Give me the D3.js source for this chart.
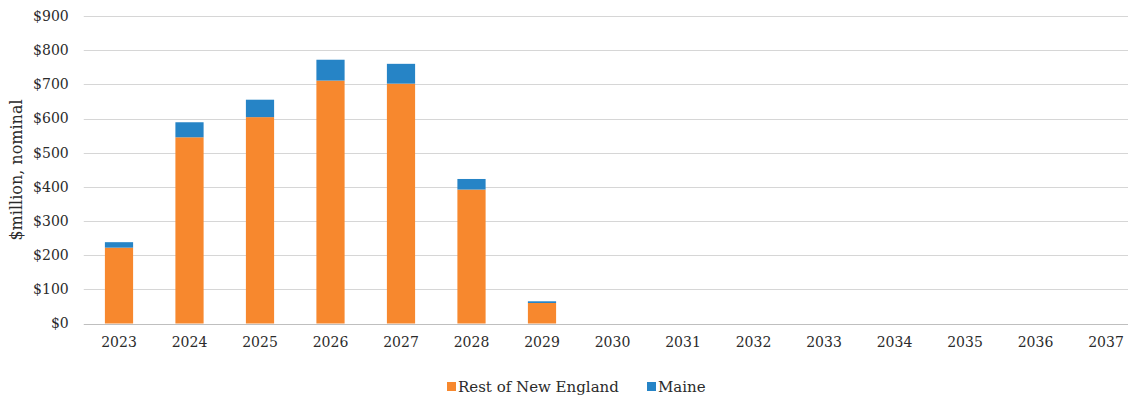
<!DOCTYPE html>
<html>
<head>
<meta charset="utf-8">
<script src="https://cdn.jsdelivr.net/npm/d3@7"></script>
<style>
  html, body { margin: 0; padding: 0; background: #fff; }
  svg { display: block; }
  text { font-family: "DejaVu Serif", "Liberation Serif", serif; fill: #2b2b2b; }
</style>
</head>
<body>
<svg id="chart" width="1128" height="400"></svg>
<script>
// Annual spending, $ million nominal
const years = ["2023","2024","2025","2026","2027","2028","2029","2030","2031","2032","2033","2034","2035","2036","2037"];
const restOfNewEngland = [222, 545, 604, 711, 702, 392, 60, 0, 0, 0, 0, 0, 0, 0, 0];
const maine = [16, 44, 51, 61, 58, 31, 5, 0, 0, 0, 0, 0, 0, 0, 0];
const yTicks = [0, 100, 200, 300, 400, 500, 600, 700, 800, 900];
const seriesNames = ["Rest of New England", "Maine"];
const seriesColors = ["#F7882E", "#2684C6"];

const svg = d3.select("#chart");
const W = 1128, H = 400;
const margin = { left: 83.75, top: 16, bottom: 76 };
const step = 70.5;
const plotRight = margin.left + step * years.length;
const baseY = H - margin.bottom;

const x = d3.scaleBand()
  .domain(years)
  .range([margin.left, plotRight])
  .paddingInner(0.6)
  .paddingOuter(0.3);

const y = d3.scaleLinear()
  .domain([0, 900])
  .range([baseY - 0.5, margin.top]);

// gridlines
svg.append("g")
  .selectAll("line")
  .data(yTicks.filter(d => d > 0))
  .join("line")
  .attr("x1", margin.left)
  .attr("x2", W)
  .attr("y1", d => Math.round(y(d)) + 0.5)
  .attr("y2", d => Math.round(y(d)) + 0.5)
  .attr("stroke", "#d6d6d6")
  .attr("stroke-width", 1);

// y-axis labels
const yAxis = d3.axisLeft(y)
  .tickValues(yTicks)
  .tickFormat(d => "$" + d)
  .tickSize(0)
  .tickPadding(15);
const gy = svg.append("g")
  .attr("transform", `translate(${margin.left},0)`)
  .call(yAxis);
gy.select(".domain").remove();
gy.selectAll("text")
  .style("font-size", "14px")
  .attr("fill", "#2b2b2b");

// stacked data
const rows = years.map((yr, i) => ({ year: yr, rest: restOfNewEngland[i], maine: maine[i] }));
const stacked = d3.stack().keys(["rest", "maine"])(rows);

svg.append("g")
  .selectAll("g")
  .data(stacked)
  .join("g")
  .attr("fill", (d, i) => seriesColors[i])
  .selectAll("rect")
  .data(d => d.filter(p => p[1] - p[0] > 0))
  .join("rect")
  .attr("x", d => x(d.data.year))
  .attr("width", x.bandwidth())
  .attr("y", d => y(d[1]))
  .attr("height", d => y(d[0]) - y(d[1]));

// x baseline
svg.append("line")
  .attr("x1", margin.left).attr("x2", W)
  .attr("y1", Math.round(y(0)) + 0.5).attr("y2", Math.round(y(0)) + 0.5)
  .attr("stroke", "#bfbfbf");

// x-axis labels
const xAxis = d3.axisBottom(x).tickSize(0).tickPadding(13);
const gx = svg.append("g")
  .attr("transform", `translate(0,${baseY})`)
  .call(xAxis);
gx.select(".domain").remove();
gx.selectAll("text")
  .style("font-size", "14px")
  .attr("fill", "#2b2b2b");

// y-axis title
svg.append("text")
  .attr("transform", `translate(22,${(margin.top + baseY) / 2}) rotate(-90)`)
  .attr("text-anchor", "middle")
  .style("font-size", "16px")
  .text("$million, nominal");

// legend
const legend = svg.append("g").attr("transform", "translate(0,387)");
const legendItems = [
  { name: seriesNames[0], color: seriesColors[0], x: 447 },
  { name: seriesNames[1], color: seriesColors[1], x: 647 }
];
const li = legend.selectAll("g").data(legendItems).join("g")
  .attr("transform", d => `translate(${d.x},0)`);
li.append("rect")
  .attr("x", 0).attr("y", -5)
  .attr("width", 9).attr("height", 9)
  .attr("fill", d => d.color);
li.append("text")
  .attr("x", 11).attr("y", 5)
  .style("font-size", "15px")
  .text(d => d.name);
</script>
</body>
</html>
